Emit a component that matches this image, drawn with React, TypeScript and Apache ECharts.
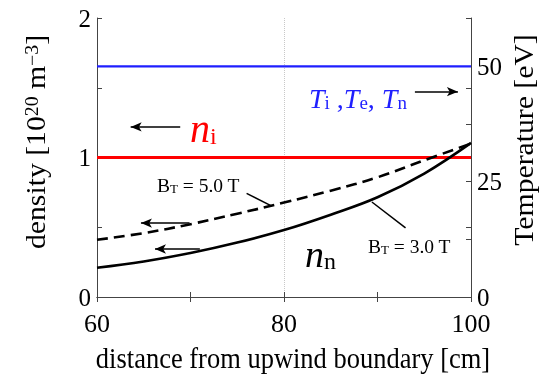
import React, { useEffect, useRef } from "react";
import * as echarts from "echarts";

// distance from upwind boundary [cm]
const xCm = [60, 65, 70, 75, 80, 85, 90, 95, 100];
// neutral density n_n [10^20 m^-3]
const nn3T = [0.21, 0.255, 0.315, 0.39, 0.48, 0.59, 0.715, 0.885, 1.105];
const nn5T = [0.41, 0.458, 0.522, 0.597, 0.677, 0.762, 0.858, 0.98, 1.1];
// flat profiles
const xEnds = [60, 100];
const niLevel = [1, 1];
const tempLevel = [50, 50];

const xTicks = [60, 80, 100];
const densTicks = [0, 1, 2];
const tempTicks = [0, 25, 50];

const SERIF = "'Liberation Serif', 'Times New Roman', serif";

export default function App() {
  const ref = useRef<HTMLDivElement>(null);
  useEffect(() => {
    const chart = echarts.init(ref.current!, null, { renderer: "svg" });
    const axisLineStyle = { color: "#444", width: 1 };
    const tickStyle = { color: "#444", width: 1 };
    const xLabelStyle = { fontFamily: SERIF, fontSize: 26, color: "#000" };
    const yLabelStyle = { fontFamily: SERIF, fontSize: 25, color: "#000" };
    const pair = (xs: number[], ys: number[]) => xs.map((x, i) => [x, ys[i]]);
    const arrow = (x1: number, y1: number, x2: number, y2: number, head = true) => [
      { coord: [x1, y1], symbol: "none" },
      { coord: [x2, y2], symbol: head ? "arrow" : "none", symbolSize: [7, 11] },
    ];
    chart.setOption({
      animation: false,
      grid: { left: 97, right: 71, top: 18, bottom: 81 },
      xAxis: [
        {
          type: "value", min: 60, max: 100, interval: 20, position: "bottom",
          axisLine: { show: true, lineStyle: axisLineStyle },
          axisTick: { show: true, inside: true, length: 5, lineStyle: tickStyle },
          minorTick: { show: true, splitNumber: 2, length: 5, lineStyle: tickStyle },
          axisLabel: { ...xLabelStyle, margin: 13, formatter: (v: number) => (xTicks.includes(v) ? String(v) : "") },
          splitLine: { show: true, lineStyle: { color: "#c8c8c8", type: "dotted", width: 1 } },
        },
        {
          type: "value", min: 60, max: 100, interval: 20, position: "top",
          axisLine: { show: true, lineStyle: axisLineStyle },
          axisTick: { show: true, inside: true, length: 5, lineStyle: tickStyle },
          minorTick: { show: true, splitNumber: 2, length: 5, lineStyle: tickStyle },
          axisLabel: { show: false },
          splitLine: { show: false },
        },
      ],
      yAxis: [
        {
          type: "value", min: 0, max: 2, interval: 0.5, position: "left",
          axisLine: { show: true, lineStyle: axisLineStyle },
          axisTick: { show: true, inside: true, length: 5, lineStyle: tickStyle },
          axisLabel: { ...yLabelStyle, margin: 6, formatter: (v: number) => (densTicks.includes(v) ? String(v) : "") },
          splitLine: { show: false },
        },
        {
          type: "value", min: 0, max: 60.5, interval: 12.5, position: "right",
          axisLine: { show: true, lineStyle: axisLineStyle },
          axisTick: { show: true, inside: true, length: 5, lineStyle: tickStyle },
          axisLabel: { ...yLabelStyle, margin: 6, formatter: (v: number) => (tempTicks.includes(v) ? String(v) : "") },
          splitLine: { show: false },
        },
        {
          type: "value", min: 0, max: 2, interval: 0.5, position: "right",
          axisLine: { show: false },
          axisTick: { show: true, inside: true, length: 5, lineStyle: tickStyle },
          axisLabel: { show: false },
          splitLine: { show: false },
        },
      ],
      series: [
        {
          type: "line", name: "T", yAxisIndex: 1, data: pair(xEnds, tempLevel), symbol: "none",
          lineStyle: { color: "#1f1fff", width: 2.2 }, z: 3,
        },
        {
          type: "line", name: "ni", yAxisIndex: 0, data: pair(xEnds, niLevel), symbol: "none",
          lineStyle: { color: "#ff0000", width: 3 }, z: 3,
        },
        {
          type: "line", name: "nn5", yAxisIndex: 0, data: pair(xCm, nn5T), symbol: "none", smooth: 0.4,
          lineStyle: { color: "#000", width: 2.6, type: [11, 6] }, z: 4,
        },
        {
          type: "line", name: "nn3", yAxisIndex: 0, data: pair(xCm, nn3T), symbol: "none", smooth: 0.4,
          lineStyle: { color: "#000", width: 2.6 }, z: 4,
          markLine: {
            silent: true, animation: false, label: { show: false },
            lineStyle: { color: "#000", width: 1.5, type: "solid" },
            data: [
              arrow(68.9, 1.219, 63.6, 1.219),
              arrow(94.0, 1.472, 98.6, 1.472),
              arrow(69.9, 0.53, 64.7, 0.53),
              arrow(71.0, 0.344, 66.2, 0.344),
              arrow(76.0, 0.743, 78.7, 0.652, false),
              arrow(89.4, 0.681, 93.0, 0.495, false),
            ],
          },
        },
      ],
      graphic: [
        {
          type: "text", x: 36, y: 142, rotation: Math.PI / 2, scaleX: 1.1,
          style: {
            text: "{a|density [10}{p|20}{a| m}{p|−3}{a|]}", align: "center", verticalAlign: "middle",
            rich: {
              a: { fontFamily: SERIF, fontSize: 27, fill: "#000" },
              p: { fontFamily: SERIF, fontSize: 18, fill: "#000", verticalAlign: "top" },
            },
          },
        },
        {
          type: "text", x: 524, y: 140, rotation: Math.PI / 2, scaleX: 1.1,
          style: { text: "Temperature [eV]", fontFamily: SERIF, fontSize: 27, fill: "#000", align: "center", verticalAlign: "middle" },
        },
        {
          type: "text", x: 293, y: 358, scaleY: 1.1,
          style: { text: "distance from upwind boundary [cm]", fontFamily: SERIF, fontSize: 26.5, fill: "#000", align: "center", verticalAlign: "middle" },
        },
        {
          type: "text", x: 190, y: 128,
          style: {
            text: "{n|n}{s|i}", verticalAlign: "middle", align: "left",
            rich: {
              n: { fontFamily: SERIF, fontSize: 40, fontStyle: "italic", fill: "#ff0000" },
              s: { fontFamily: SERIF, fontSize: 24, fill: "#ff0000", verticalAlign: "bottom", lineHeight: 28 },
            },
          },
        },
        {
          type: "text", x: 305, y: 254,
          style: {
            text: "{n|n}{s|n}", verticalAlign: "middle", align: "left",
            rich: {
              n: { fontFamily: SERIF, fontSize: 38, fontStyle: "italic", fill: "#000" },
              s: { fontFamily: SERIF, fontSize: 24, fill: "#000", verticalAlign: "bottom", lineHeight: 28 },
            },
          },
        },
        {
          type: "text", x: 309, y: 98,
          style: {
            text: "{t|T}{s|i}{p| ,}{t|T}{s|e}{p|, }{t|T}{s|n}", verticalAlign: "middle", align: "left",
            rich: {
              t: { fontFamily: SERIF, fontSize: 28, fontStyle: "italic", fill: "#1f1fff" },
              p: { fontFamily: SERIF, fontSize: 28, fill: "#1f1fff" },
              s: { fontFamily: SERIF, fontSize: 19, fill: "#1f1fff", verticalAlign: "bottom", lineHeight: 18 },
            },
          },
        },
        {
          type: "text", x: 157, y: 185,
          style: {
            text: "{b|B}{s|T}{b| = 5.0 T}", verticalAlign: "middle", align: "left",
            rich: {
              b: { fontFamily: SERIF, fontSize: 19.5, fill: "#000" },
              s: { fontFamily: SERIF, fontSize: 13, fill: "#000", verticalAlign: "bottom", lineHeight: 14 },
            },
          },
        },
        {
          type: "text", x: 368, y: 246,
          style: {
            text: "{b|B}{s|T}{b| = 3.0 T}", verticalAlign: "middle", align: "left",
            rich: {
              b: { fontFamily: SERIF, fontSize: 19.5, fill: "#000" },
              s: { fontFamily: SERIF, fontSize: 13, fill: "#000", verticalAlign: "bottom", lineHeight: 14 },
            },
          },
        },
      ],
    });
    return () => chart.dispose();
  }, []);
  return <div ref={ref} style={{ position: "fixed", left: 0, top: 0, width: 542, height: 378 }} />;
}
